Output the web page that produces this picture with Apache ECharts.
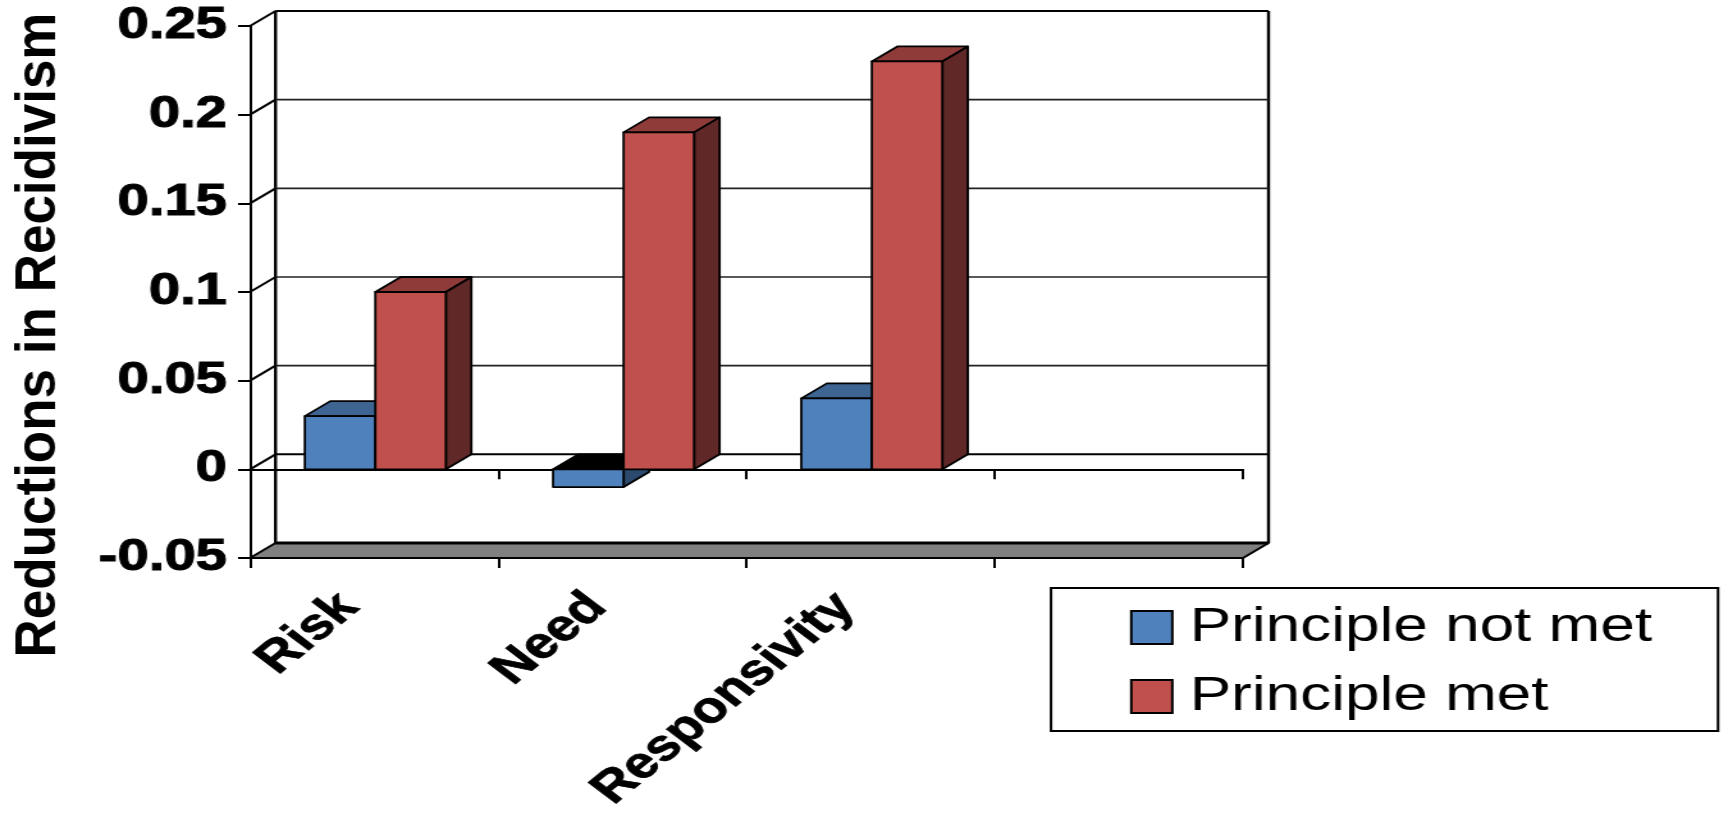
<!DOCTYPE html>
<html>
<head>
<meta charset="utf-8">
<title>Reductions in Recidivism</title>
<script src="https://cdn.jsdelivr.net/npm/echarts@6/dist/echarts.min.js"></script>
<style>
  html, body { margin: 0; padding: 0; background: #fff; overflow: hidden; }
  /* the source picture is a slide stretched sideways, so the whole chart is too */
  #chart { width: 1347px; height: 813px; transform: scaleX(1.28); transform-origin: 0 0; }
</style>
</head>
<body>
<div id="chart"></div>
<script>
  const categories = ['Risk', 'Need', 'Responsivity', '']
  const principleNotMet = [0.03, -0.01, 0.04]
  const principleMet = [0.1, 0.19, 0.23]
  const yTicks = [-0.05, 0, 0.05, 0.1, 0.15, 0.2, 0.25]
  const seriesNames = ['Principle not met', 'Principle met']

  const STRETCH = 1.28
  const sx = px => px / STRETCH // screen px to chart px
  const DEPTH_X = sx(25.5)
  const DEPTH_Y = 15
  const BAR_FRAC = 0.284
  const BAR_SHIFT = sx(1.2)
  const FONT = '"Liberation Sans", Arial, sans-serif'

  const line = (x1, y1, x2, y2, width, color) => ({
    type: 'line',
    shape: { x1, y1, x2, y2 },
    style: { stroke: color, lineWidth: width },
  })
  const poly = (points, fill, width) => ({
    type: 'polygon',
    shape: { points },
    style: { fill, stroke: '#000', lineWidth: width, lineJoin: 'round' },
  })

  // back wall, floor and the short diagonals, hung on the y axis ticks
  const wallItem = (params, api) => {
    const v = api.value(0)
    const c = params.coordSys
    const y = api.coord([0, v])[1]
    const x0 = c.x
    const x1 = c.x + c.width
    const children = []
    if (v === yTicks[0]) {
      children.push(poly([[x0, y], [x1, y], [x1 + DEPTH_X, y - DEPTH_Y], [x0 + DEPTH_X, y - DEPTH_Y]], '#808080', 2))
      children.push(line(x0 + DEPTH_X, y - DEPTH_Y, x1 + DEPTH_X, y - DEPTH_Y, 3, '#000'))
      // wall uprights
      const top = api.coord([0, yTicks[yTicks.length - 1]])[1] - DEPTH_Y
      children.push(line(x0 + DEPTH_X, top, x0 + DEPTH_X, y - DEPTH_Y, 2.4, '#000'))
      children.push(line(x1 + DEPTH_X, top, x1 + DEPTH_X, y - DEPTH_Y, 2.4, '#000'))
    } else {
      const strong = v === 0 || v === yTicks[yTicks.length - 1]
      children.push(line(x0 + DEPTH_X, y - DEPTH_Y, x1 + DEPTH_X, y - DEPTH_Y, strong ? 2 : 1.6, strong ? '#000' : '#222'))
      children.push(line(x0, y, x0 + DEPTH_X, y - DEPTH_Y, 2, '#000'))
    }
    return { type: 'group', children }
  }

  const barItem = (side, front, top, flank) => (params, api) => {
    const cat = api.value(0)
    const val = api.value(1)
    const w = api.size([1, 0])[0] * BAR_FRAC
    const [cx, yVal] = api.coord([cat, val])
    const yZero = api.coord([cat, 0])[1]
    const xL = (side < 0 ? cx - w : cx) + BAR_SHIFT
    const xR = xL + w
    const yTop = Math.min(yVal, yZero)
    const yBot = Math.max(yVal, yZero)
    const bx = DEPTH_X
    const by = DEPTH_Y
    return {
      type: 'group',
      children: [
        poly([[xL, yTop], [xR, yTop], [xR + bx, yTop - by], [xL + bx, yTop - by]], val < 0 ? '#000' : top, 1.8),
        poly([[xR, yTop], [xR + bx, yTop - by], [xR + bx, yBot - by], [xR, yBot]], flank, 1.8),
        poly([[xL, yTop], [xR, yTop], [xR, yBot], [xL, yBot]], front, 1.8),
      ],
    }
  }

  const myChart = echarts.init(document.getElementById('chart'))
  const option = {
    animation: false,
    backgroundColor: '#fff',
    textStyle: { fontFamily: FONT, color: '#000' },
    grid: { left: sx(250), top: 26, width: sx(993), height: 532, outerBoundsMode: 'none' },
    legend: {
      data: seriesNames,
      orient: 'vertical',
      left: sx(1051),
      top: 588,
      padding: [15, sx(66), 10, sx(79)],
      borderColor: '#000',
      borderWidth: 2,
      icon: 'rect',
      itemWidth: sx(41),
      itemHeight: 33,
      itemGap: 20,
      itemStyle: { borderColor: '#000', borderWidth: 2 },
      textStyle: { fontFamily: FONT, fontSize: 48.5, color: '#000', padding: [0, 0, 0, sx(11)] },
    },
    xAxis: [
      {
        type: 'category',
        data: categories,
        position: 'bottom',
        axisLine: { onZero: false, lineStyle: { color: '#000', width: 2 } },
        axisTick: { show: true, interval: 0, length: 10, lineStyle: { color: '#000', width: 2 } },
        axisLabel: {
          interval: 0,
          rotate: 46,
          margin: 22,
          padding: [0, 28, 0, 0],
          color: '#000',
          fontFamily: FONT,
          fontSize: 44,
          fontWeight: 'bold',
          textBorderColor: '#000',
          textBorderWidth: 0.8,
        },
      },
      {
        type: 'category',
        data: categories,
        position: 'bottom',
        axisLine: { onZero: true, lineStyle: { color: '#000', width: 2 } },
        axisTick: { show: true, interval: 0, length: 10, lineStyle: { color: '#000', width: 2 } },
        axisLabel: { show: false },
      },
    ],
    yAxis: {
      type: 'value',
      min: yTicks[0],
      max: yTicks[yTicks.length - 1],
      interval: 0.05,
      axisLine: { show: true, onZero: false, lineStyle: { color: '#000', width: 2 } },
      axisTick: { show: true, length: sx(12), lineStyle: { color: '#000', width: 2 } },
      splitLine: { show: false },
      axisLabel: {
        margin: sx(23),
        color: '#000',
        fontFamily: FONT,
        fontSize: 44,
        fontWeight: 'bold',
        textBorderColor: '#000',
        textBorderWidth: 1,
      },
    },
    graphic: [
      {
        type: 'text',
        x: sx(39),
        y: 335,
        rotation: Math.PI / 2,
        scaleY: 0.85,
        style: {
          text: 'Reductions in Recidivism',
          fontFamily: FONT,
          fontSize: 53,
          fontWeight: 'bold',
          fill: '#000',
          textAlign: 'center',
          textVerticalAlign: 'middle',
        },
      },
    ],
    series: [
      {
        name: 'walls',
        type: 'custom',
        silent: true,
        z: 1,
        renderItem: wallItem,
        encode: { x: -1, y: 0 },
        data: yTicks.map(v => [v]),
      },
      {
        name: seriesNames[0],
        type: 'custom',
        z: 2,
        itemStyle: { color: '#4f81bd' },
        renderItem: barItem(-1, '#4f81bd', '#3e6491', '#2c4a6e'),
        encode: { x: 0, y: 1 },
        data: principleNotMet.map((v, i) => [i, v]),
      },
      {
        name: seriesNames[1],
        type: 'custom',
        z: 3,
        itemStyle: { color: '#c0504d' },
        renderItem: barItem(1, '#c0504d', '#8e3b39', '#602927'),
        encode: { x: 0, y: 1 },
        data: principleMet.map((v, i) => [i, v]),
      },
    ],
  }
  option && myChart.setOption(option)
</script>
</body>
</html>
